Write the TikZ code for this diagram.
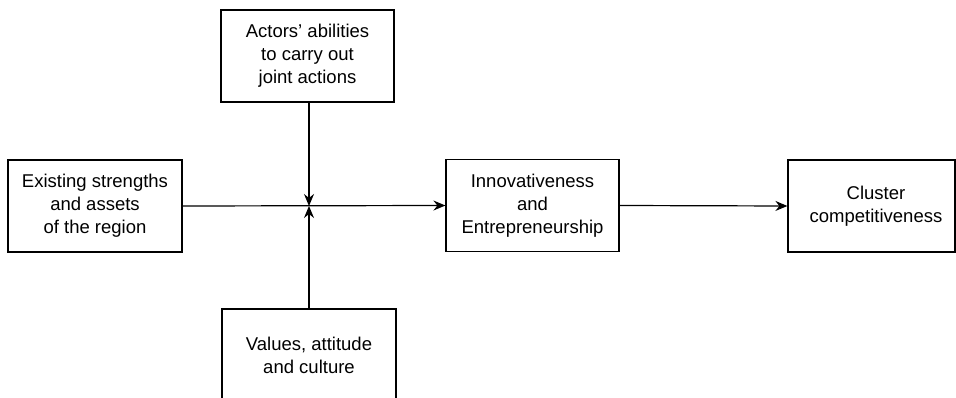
\documentclass[tikz,border=0pt]{standalone}
\usepackage{fontspec}
\setmainfont{Liberation Sans}
\usetikzlibrary{arrows.meta}
\tikzset{
  box/.style={draw, line width=1.2pt, minimum width=174pt, minimum height=92pt, align=center, inner sep=0pt, font=\fontsize{18.5pt}{23pt}\selectfont},
  conn/.style={line width=1.2pt},
  arr/.style={conn, -{Stealth[length=12pt, width=10pt, inset=4pt]}}
}
\begin{document}
\begin{tikzpicture}[x=1pt,y=-1pt]
\useasboundingbox (0,0) rectangle (956,398);
\begin{scope}
\clip (0,0) rectangle (956,398);
\node[box, minimum width=173pt] (t) at (307.5,56) {Actors’ abilities\\to carry out\\joint actions};
\node[box] (l) at (95,206) {Existing strengths\\and assets\\of the region};
\node[box, minimum width=173pt] (m) at (532.5,205.5) {Innovativeness\\and\\Entrepreneurship};
\node[box, minimum width=167pt] (c) at (871.5,206) {\begin{tabular}{@{\hspace{9pt}}c@{}}Cluster\\competitiveness\end{tabular}};
\node[box] (b) at (309,355) {Values, attitude\\and culture};
\coordinate (j) at (309,206);
\draw[arr] (l.east) -- (m.west);
\draw[arr] (t.south -| j) -- (j);
\draw[arr] (b.north -| j) -- (j);
\draw[arr] (m.east) -- (c.west);
\end{scope}
\end{tikzpicture}
\end{document}
